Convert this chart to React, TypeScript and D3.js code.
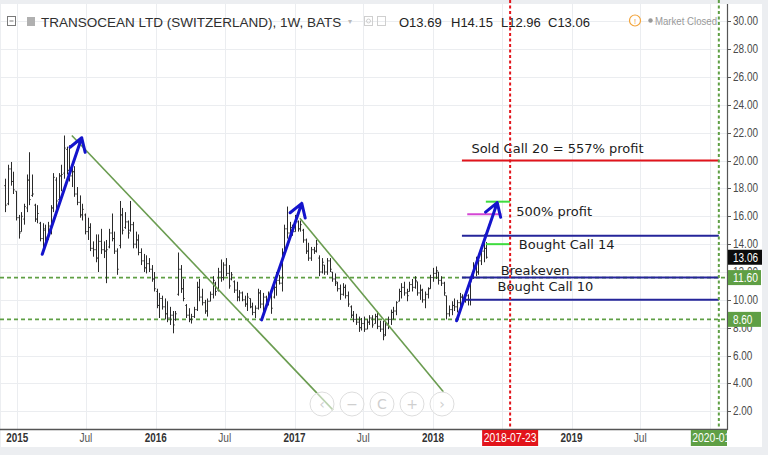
import React from 'react';
import * as d3 from 'd3';

// weekly bars, first one is the week of 2014-12-01
const firstWeek = new Date(2014, 11, 1);

const highs = [
  18.7, 19.7, 19.9, 19.2, 17.8, 16.1, 16.3, 16.9, 19.0, 20.6, 19.0, 16.9, 16.8, 15.6, 15.5, 15.4, 15.6, 16.8, 19.1, 18.8,
  19.1, 19.7, 21.8, 21.0, 21.1, 19.9, 19.6, 18.1, 17.5, 16.9, 16.2, 15.9, 15.5, 14.2, 14.7, 14.7, 15.1, 14.2, 14.3, 15.1,
  16.2, 14.9, 13.7, 17.1, 16.6, 16.3, 15.7, 17.1, 15.6, 14.9, 14.7, 13.7, 13.3, 13.2, 13.0, 12.5, 12.0, 10.8, 10.5, 10.3,
  10.1, 9.9, 9.5, 9.2, 9.2, 13.4, 12.5, 11.5, 9.7, 9.4, 9.0, 9.5, 11.3, 11.5, 10.8, 10.0, 10.1, 10.6, 11.7, 11.3,
  12.3, 12.9, 12.7, 13.0, 12.5, 12.0, 11.4, 11.3, 10.7, 10.6, 10.3, 10.5, 10.1, 9.8, 9.6, 10.8, 10.7, 10.5, 10.3, 10.6,
  10.8, 11.1, 12.0, 11.8, 13.7, 15.4, 16.7, 15.6, 15.4, 16.1, 15.7, 15.7, 15.1, 14.4, 14.1, 13.8, 13.8, 14.3, 13.2, 13.0,
  12.5, 13.0, 13.0, 12.0, 11.9, 11.3, 11.1, 11.2, 11.1, 10.6, 9.6, 9.2, 9.0, 8.8, 8.7, 8.8, 8.6, 8.9, 8.9, 9.0,
  9.2, 8.5, 8.5, 8.5, 8.8, 9.3, 9.5, 9.9, 10.8, 11.2, 11.3, 10.8, 11.3, 11.5, 11.7, 11.3, 11.1, 10.8, 10.6, 10.9,
  11.8, 12.3, 12.4, 12.0, 11.7, 11.3, 10.3, 9.6, 9.9, 10.1, 10.0, 10.5, 10.4, 10.5, 10.4, 11.5, 12.7, 13.1, 13.0, 13.7,
  14.7, 14.15,
];

const lows = [
  16.3, 16.8, 18.2, 17.6, 15.7, 14.4, 14.9, 15.4, 16.3, 16.8, 17.4, 15.6, 15.5, 14.2, 13.3, 14.2, 14.3, 14.7, 16.3, 16.3,
  17.0, 17.8, 18.7, 19.0, 18.5, 18.1, 17.4, 16.8, 15.9, 15.7, 14.7, 14.3, 13.5, 13.1, 12.7, 12.0, 13.3, 13.0, 11.2, 13.7,
  14.2, 13.3, 11.8, 13.7, 14.7, 15.1, 14.4, 14.9, 13.7, 13.7, 13.2, 12.5, 12.0, 11.9, 12.0, 11.3, 10.6, 9.4, 8.7, 9.3,
  8.6, 8.4, 8.2, 7.6, 8.5, 10.3, 10.5, 9.9, 8.7, 8.4, 8.3, 8.7, 9.2, 9.9, 9.6, 9.0, 8.8, 9.9, 10.1, 10.3,
  10.6, 11.3, 11.4, 11.7, 10.8, 11.4, 10.5, 9.9, 9.9, 9.9, 9.5, 9.2, 9.4, 8.9, 8.7, 9.3, 9.4, 9.2, 9.6, 9.6,
  9.0, 10.1, 10.3, 11.1, 10.6, 13.2, 14.4, 14.4, 14.6, 14.9, 14.9, 14.9, 14.1, 13.3, 12.8, 12.8, 13.3, 13.4, 11.7, 11.9,
  11.8, 11.8, 12.0, 11.3, 11.0, 10.6, 10.0, 10.3, 10.1, 9.5, 8.7, 8.4, 8.2, 7.7, 7.8, 7.7, 7.9, 8.2, 8.0, 8.3,
  7.9, 7.7, 7.1, 7.4, 7.9, 8.2, 8.6, 8.9, 9.9, 10.1, 10.3, 9.9, 10.6, 10.6, 10.8, 10.3, 10.0, 9.8, 9.4, 10.1,
  10.8, 11.3, 11.5, 11.1, 11.0, 10.3, 8.6, 8.8, 8.9, 9.2, 9.1, 9.5, 9.7, 9.8, 9.6, 9.6, 11.5, 11.7, 11.8, 12.5,
  12.7, 12.96,
];

const opens = [
  18.2, 16.9, 19.4, 18.5, 17.8, 15.9, 14.9, 15.8, 16.6, 18.6, 17.5, 16.8, 15.8, 15.5, 14.4, 15.0, 14.5, 15.3, 16.6, 18.6,
  17.2, 18.9, 19.1, 20.8, 19.3, 18.9, 19.2, 17.6, 17.0, 16.1, 16.1, 14.9, 15.2, 13.7, 13.6, 13.0, 14.2, 13.6, 13.5, 13.8,
  14.8, 14.4, 13.5, 13.9, 16.1, 15.2, 15.6, 15.0, 15.4, 14.0, 14.3, 13.4, 12.8, 12.3, 12.6, 12.2, 11.5, 10.6, 9.6, 10.1,
  9.5, 9.0, 8.7, 8.9, 8.6, 10.4, 12.2, 10.8, 9.6, 8.9, 8.6, 8.8, 9.3, 10.9, 10.2, 9.8, 9.2, 9.9, 10.4, 11.2,
  10.7, 12.0, 11.6, 12.5, 11.9, 11.5, 11.3, 10.7, 10.2, 10.5, 10.0, 9.7, 10.1, 9.5, 9.1, 9.4, 10.5, 9.7, 10.2, 9.8,
  10.3, 10.2, 10.9, 11.4, 11.2, 13.4, 15.1, 14.8, 15.2, 14.9, 15.6, 15.1, 15.0, 14.3, 13.5, 13.0, 13.6, 13.5, 13.0, 12.0,
  12.5, 12.0, 12.8, 12.0, 11.5, 11.2, 10.8, 10.4, 10.9, 10.3, 9.5, 8.9, 8.6, 8.4, 8.0, 8.3, 7.9, 8.4, 8.7, 8.3,
  8.8, 8.1, 7.9, 7.5, 8.2, 8.6, 9.1, 9.2, 9.9, 10.6, 10.9, 10.5, 10.6, 11.1, 10.9, 11.3, 10.5, 10.7, 10.0, 10.4,
  10.8, 11.6, 11.9, 12.0, 11.4, 11.2, 10.3, 9.0, 9.3, 9.6, 9.5, 9.8, 10.2, 9.9, 10.3, 10.0, 11.6, 12.4, 12.0, 12.8,
  13.5, 13.69,
];

const closes = [
  16.8, 19.4, 18.5, 17.9, 15.9, 14.8, 16.0, 16.7, 18.6, 17.2, 17.6, 15.8, 16.2, 14.4, 15.1, 14.5, 15.3, 16.6, 18.8, 17.1,
  18.9, 19.0, 20.9, 19.3, 18.9, 19.2, 17.6, 17.0, 16.1, 16.5, 14.9, 15.2, 13.7, 13.6, 13.0, 14.2, 13.6, 13.5, 13.6, 14.8,
  14.4, 13.5, 12.2, 16.1, 15.0, 15.6, 14.8, 15.4, 14.0, 14.3, 13.4, 12.8, 12.3, 12.6, 12.2, 11.5, 10.8, 9.6, 10.1, 9.5,
  9.0, 8.7, 8.9, 8.2, 9.0, 12.2, 10.8, 10.1, 8.9, 8.6, 8.8, 9.3, 10.9, 10.2, 9.8, 9.2, 9.9, 10.4, 11.4, 10.6,
  12.0, 11.6, 12.5, 11.9, 11.0, 11.8, 10.7, 10.2, 10.5, 10.0, 9.7, 10.2, 9.5, 9.1, 9.4, 10.5, 9.7, 10.2, 9.8, 10.3,
  9.4, 10.9, 11.4, 11.2, 13.4, 15.1, 14.8, 15.2, 14.9, 15.8, 15.1, 15.4, 14.3, 13.5, 13.0, 13.6, 13.5, 14.0, 12.0, 12.7,
  12.0, 12.8, 12.2, 11.5, 11.3, 10.8, 10.4, 10.9, 10.3, 9.7, 8.9, 8.6, 8.4, 8.0, 8.3, 7.9, 8.4, 8.7, 8.2, 8.8,
  8.1, 7.9, 7.4, 8.2, 8.6, 9.1, 9.2, 9.8, 10.6, 10.9, 10.5, 10.3, 11.1, 10.9, 11.4, 10.5, 10.7, 10.0, 10.4, 10.8,
  11.6, 11.9, 12.1, 11.4, 11.2, 10.5, 9.0, 9.3, 9.6, 9.5, 9.8, 10.2, 9.9, 10.3, 10.0, 11.3, 12.4, 12.0, 12.8, 13.5,
  13.7, 13.06,
];

const priceTicks = d3.range(2, 31, 2);
const cursorDate = new Date(2018, 6, 23);
const endDate = new Date(2020, 0, 24);
const lastClose = 13.06;
const markerLevels = [11.6, 8.6];

// trend lines (green) and arrows (blue), in date / price
const trendLines = [
  { from: [new Date(2015, 4, 25), 21.8], to: [new Date(2017, 3, 12), 2.1] },
  { from: [new Date(2017, 0, 15), 15.86], to: [new Date(2018, 0, 28), 3.41] },
];
const arrows = [
  { from: [new Date(2015, 2, 8), 13.27], to: [new Date(2015, 5, 20), 21.64] },
  { from: [new Date(2016, 9, 6), 8.56], to: [new Date(2017, 0, 20), 16.93] },
  { from: [new Date(2018, 2, 4), 8.5], to: [new Date(2018, 5, 19), 16.98] },
];

const levelStart = new Date(2018, 2, 18);
const levels = [
  { price: 20, kind: 'sold' },
  { price: 14.6, kind: 'bought' },
  { price: 11.6, kind: 'bought' },
  { price: 10, kind: 'bought' },
];
const marks = [
  { price: 17.05, from: new Date(2018, 4, 20), to: cursorDate, kind: 'target' },
  { price: 14.0, from: new Date(2018, 4, 20), to: cursorDate, kind: 'target' },
  { price: 16.14, from: new Date(2018, 3, 1), to: new Date(2018, 5, 30), kind: 'profit' },
];
const notes = [
  { text: 'Sold Call 20 = 557% profit', date: new Date(2018, 3, 12), price: 20.55 },
  { text: '500% profit', date: new Date(2018, 7, 8), price: 16.02 },
  { text: 'Bought Call 14', date: new Date(2018, 7, 15), price: 13.65 },
  { text: 'Breakeven', date: new Date(2018, 5, 28), price: 11.79 },
  { text: 'Bought Call 10', date: new Date(2018, 5, 20), price: 10.64 },
];

const header = 'TRANSOCEAN LTD (SWITZERLAND), 1W, BATS';
const ohlc = ['O13.69', 'H14.15', 'L12.96', 'C13.06'];

const RED = '#e2141b';
const GREEN = '#5f9f45';
const AXIS_FONT = "'Liberation Sans', Arial, sans-serif";

// squeeze axis text to the narrow look of the original
const narrowLen = (s: string) =>
  d3.sum(s.split(''), ch => (/\d/.test(ch) ? 5.6 : ch === '.' ? 2.6 : ch === '-' ? 3.6 : 4.4));

export default function App() {
  const W = 768, H = 455;
  const plotRight = 727, plotTop = 4, plotBottom = 429;

  const x = d3.scaleTime()
    .domain([new Date(2015, 0, 1), new Date(2019, 0, 1)])
    .range([17.2, 571.6]);
  const y = d3.scaleLinear().domain([2, 30]).range([411.3, 21.3]);

  const timeTicks = d3.timeMonth.every(6)!.range(new Date(2015, 0, 1), new Date(2020, 0, 2));
  // labels hidden behind the cursor boxes are not drawn
  const timeLabels = timeTicks.filter(t => Math.abs(x(t) - x(cursorDate)) > 30 && Math.abs(x(t) - x(endDate)) > 30);

  const bars = highs.map((h, i) => {
    const xi = Math.round(x(d3.timeWeek.offset(firstWeek, i))) + 0.5;
    return `M${xi},${y(h)}V${y(lows[i])}M${xi - 1.2},${y(opens[i])}H${xi}M${xi},${y(closes[i])}H${xi + 1.2}`;
  });

  const arrowHead = (a: any) => {
    const x1 = x(a.from[0]), y1 = y(a.from[1]);
    const x2 = x(a.to[0]), y2 = y(a.to[1]);
    const back = Math.atan2(y1 - y2, x1 - x2);
    const len = 15, spread = 0.56;
    const p1 = [x2 + len * Math.cos(back + spread), y2 + len * Math.sin(back + spread)];
    const p2 = [x2 + len * Math.cos(back - spread), y2 + len * Math.sin(back - spread)];
    return `M${x1},${y1}L${x2},${y2}M${p1[0]},${p1[1]}L${x2},${y2}L${p2[0]},${p2[1]}`;
  };

  const cx = x(cursorDate);
  const ex = x(endDate);
  const fmtDay = d3.timeFormat('%Y-%m-%d');

  return (
    <>
      <style>{'body{margin:0}'}</style>
      <svg width={W} height={H} style={{ display: 'block' }}>
        <defs>
          <clipPath id="plot">
            <rect x={0} y={plotTop} width={plotRight} height={plotBottom - plotTop} />
          </clipPath>
          <clipPath id="timeaxis">
            <rect x={0} y={plotBottom} width={plotRight} height={20} />
          </clipPath>
        </defs>
        <rect width={W} height={H} fill="#eceef1" />
        <rect x={1} y={plotTop} width={761} height={443} fill="#fff" />

        {/* grid */}
        <g stroke="#ebedf0" strokeWidth={1}>
          {priceTicks.map(p => (
            <line key={p} x1={0} x2={plotRight} y1={Math.round(y(p)) + 0.5} y2={Math.round(y(p)) + 0.5} />
          ))}
          {timeTicks.map(t => (
            <line key={+t} x1={Math.round(x(t)) + 0.5} x2={Math.round(x(t)) + 0.5} y1={plotTop} y2={plotBottom} />
          ))}
        </g>

        <g clipPath="url(#plot)">
          {markerLevels.map(p => (
            <line key={p} x1={0} x2={plotRight} y1={y(p)} y2={y(p)}
              stroke={GREEN} strokeWidth={1.6} strokeDasharray="4,3" />
          ))}

          <path d={bars.join('')} stroke="#2a2a2a" strokeWidth={1} fill="none" />

          {trendLines.map((t, i) => (
            <line key={i} x1={x(t.from[0] as Date)} y1={y(t.from[1] as number)}
              x2={x(t.to[0] as Date)} y2={y(t.to[1] as number)}
              stroke="#6a9c50" strokeWidth={1.6} />
          ))}

          {levels.map((l, i) => (
            <line key={i} x1={x(levelStart)} x2={ex} y1={y(l.price)} y2={y(l.price)}
              stroke={l.kind === 'sold' ? RED : '#25259a'} strokeWidth={2} />
          ))}
          {marks.map((m, i) => (
            <line key={i} x1={x(m.from)} x2={x(m.to)} y1={y(m.price)} y2={y(m.price)}
              stroke={m.kind === 'target' ? '#3fdc3f' : '#d447d4'} strokeWidth={2} />
          ))}

          {arrows.map((a, i) => (
            <path key={i} d={arrowHead(a)} stroke="#1414cc" strokeWidth={3}
              fill="none" strokeLinecap="round" strokeLinejoin="round" />
          ))}

          {notes.map((n, i) => (
            <text key={i} x={x(n.date)} y={y(n.price)} fontFamily="'DejaVu Sans', Verdana, sans-serif"
              fontSize={13} fill="#1c1c1c">{n.text}</text>
          ))}
        </g>

        {/* header */}
        <g>
          <rect x={7.5} y={16.5} width={8} height={9} fill="#fff" stroke="#7a7a7a" />
          <line x1={9.5} x2={13.5} y1={21} y2={21} stroke="#7a7a7a" />
          <rect x={27} y={17} width={8} height={9} fill="#b0b0b0" />
          <text x={41} y={26.5} fontFamily="'Liberation Sans', Arial, sans-serif" fontSize={13.5} fill="#2f2f2f">
            {header}
          </text>
          <text x={348} y={24} fontSize={8} fill="#bbb" fontFamily="'DejaVu Sans', sans-serif">▾</text>
          <rect x={364.5} y={16.5} width={8} height={9} fill="none" stroke="#cfcfcf" />
          <circle cx={368.5} cy={21} r={2} fill="none" stroke="#cfcfcf" />
          <rect x={377.5} y={16.5} width={8} height={9} fill="none" stroke="#cfcfcf" />
          {ohlc.map((s, i) => (
            <text key={s} x={[399, 451, 501, 548][i]} y={26.5}
              fontFamily="'Liberation Sans', Arial, sans-serif" fontSize={13} fill="#222">{s}</text>
          ))}
          <circle cx={635} cy={20.5} r={5.5} fill="#fff" stroke="#f2a33a" strokeWidth={1.2} />
          <text x={635} y={24} textAnchor="middle" fontSize={8} fill="#f2a33a"
            fontFamily="'Liberation Sans', Arial, sans-serif">!</text>
          <circle cx={650.5} cy={20.5} r={2.2} fill="#999" />
          <text x={655} y={24.5} fontFamily="'Liberation Sans', Arial, sans-serif" fontSize={11.5} fill="#9a9a9a"
            textLength={62} lengthAdjust="spacingAndGlyphs">
            Market Closed
          </text>
        </g>

        {/* vertical cursor lines */}
        <line x1={cx} x2={cx} y1={0} y2={plotBottom} stroke={RED} strokeWidth={2} strokeDasharray="3,2.5" />
        <line x1={ex} x2={ex} y1={0} y2={plotBottom} stroke={GREEN} strokeWidth={2} strokeDasharray="3,2.5" />

        {/* zoom buttons */}
        <g fill="rgba(255,255,255,0.55)" stroke="#dedede" strokeWidth={1}>
          {['‹', '−', 'C', '+', '›'].map((g, i) => (
            <g key={i}>
              <circle cx={322 + i * 30} cy={404} r={12} />
              <text x={322 + i * 30} y={409} textAnchor="middle" stroke="none" fill="#cfcfcf"
                fontSize={14} fontFamily="'DejaVu Sans', sans-serif">{g}</text>
            </g>
          ))}
        </g>

        {/* price axis */}
        <line x1={plotRight + 0.5} x2={plotRight + 0.5} y1={plotTop} y2={plotBottom + 1} stroke="#555" strokeWidth={1.2} />
        {priceTicks.map(p => (
          <g key={p}>
            <line x1={plotRight} x2={plotRight + 4} y1={Math.round(y(p)) + 0.5} y2={Math.round(y(p)) + 0.5} stroke="#555" />
            <text x={733} y={y(p) + 4} fontFamily={AXIS_FONT} fontSize={12} fill="#4a4a4a"
              textLength={narrowLen(p.toFixed(2))} lengthAdjust="spacingAndGlyphs">{p.toFixed(2)}</text>
          </g>
        ))}
        {markerLevels.map(p => (
          <g key={p}>
            <rect x={plotRight + 1} y={y(p) - 7.5} width={33} height={15} fill={GREEN} />
            <text x={733} y={y(p) + 4.5} fontFamily={AXIS_FONT} fontSize={12} fill="#fff"
              textLength={narrowLen(p.toFixed(2))} lengthAdjust="spacingAndGlyphs">{p.toFixed(2)}</text>
          </g>
        ))}
        <rect x={plotRight + 1} y={y(lastClose) - 7.5} width={34} height={15} fill="#0c0c0c" />
        <text x={733} y={y(lastClose) + 4.5} fontFamily={AXIS_FONT} fontSize={12} fill="#fff"
          textLength={narrowLen(lastClose.toFixed(2))} lengthAdjust="spacingAndGlyphs">{lastClose.toFixed(2)}</text>

        {/* time axis */}
        <line x1={0} x2={plotRight + 1} y1={plotBottom + 0.5} y2={plotBottom + 0.5} stroke="#555" strokeWidth={1.5} />
        {timeLabels.map(t => {
          const isYear = t.getMonth() === 0;
          const label = isYear ? d3.timeFormat('%Y')(t) : 'Jul';
          return (
            <text key={+t} x={x(t)} y={442} textAnchor="middle" fontFamily={AXIS_FONT} fontSize={12}
              fill={isYear ? '#333' : '#555'} fontWeight={isYear ? 'bold' : 'normal'}
              textLength={isYear ? 22 : 13} lengthAdjust="spacingAndGlyphs">
              {label}
            </text>
          );
        })}
        <rect x={cx - 28} y={plotBottom + 1} width={56} height={16} fill={RED} />
        <text x={cx} y={442} textAnchor="middle" fontFamily={AXIS_FONT} fontSize={12} fill="#fff"
          textLength={53} lengthAdjust="spacingAndGlyphs">
          {fmtDay(cursorDate)}
        </text>
        <g clipPath="url(#timeaxis)">
          <rect x={ex - 28} y={plotBottom + 1} width={56} height={16} fill={GREEN} />
          <text x={ex} y={442} textAnchor="middle" fontFamily={AXIS_FONT} fontSize={12} fill="#fff"
            textLength={53} lengthAdjust="spacingAndGlyphs">
            {fmtDay(endDate)}
          </text>
        </g>
      </svg>
    </>
  );
}
